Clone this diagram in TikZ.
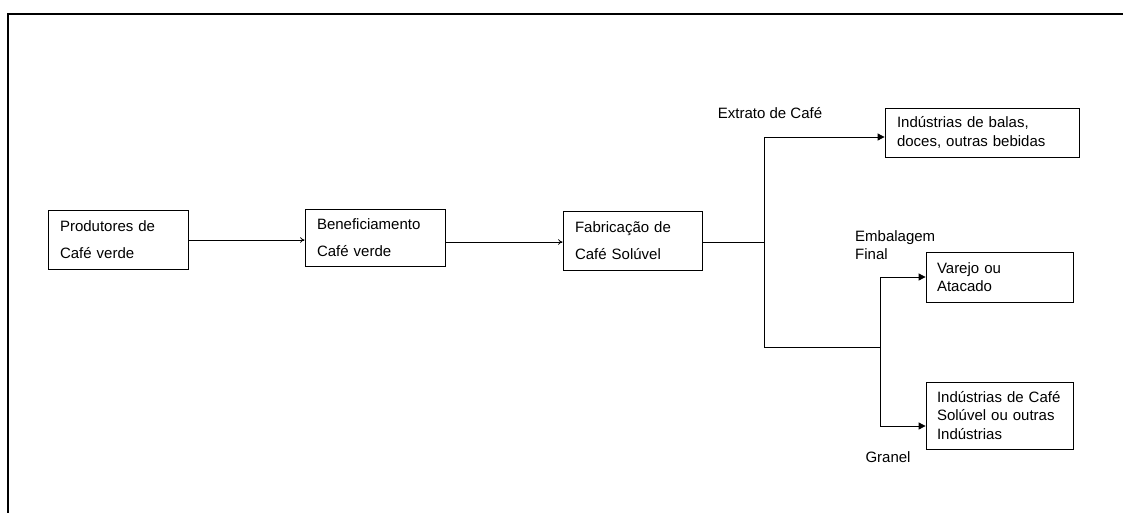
\documentclass[tikz,border=0pt]{standalone}
\usepackage{fontspec}
\setmainfont{Liberation Sans}
\usetikzlibrary{arrows.meta}
\tikzset{
	etapa/.style={draw, line width=0.8pt, align=left, inner xsep=12pt, inner ysep=0pt,
		font=\fontsize{15}{26.5}\selectfont},
	destino/.style={draw, line width=0.8pt, align=left, inner xsep=12pt, inner ysep=0pt,
		font=\fontsize{15}{18.5}\selectfont},
	rotulo/.style={font=\fontsize{15}{18}\selectfont, inner sep=0pt},
	liga/.style={line width=0.8pt},
	seta/.style={line width=0.8pt, -{To[length=4.5pt,width=5.5pt]}},
	setacheia/.style={line width=0.8pt, -{Triangle[length=7pt,width=7pt]}}
}
\begin{document}
\begin{tikzpicture}[x=1pt,y=-1pt]
	\useasboundingbox (0,0) rectangle (1123,512);
	% moldura
	\draw [line width=1.6pt] (8,520) -- (8,14) -- (1130,14);
	% cadeia principal
	\node [etapa, text width=116pt, minimum height=59pt] (prod) at (118,239.5) {Produtores de\\Café verde};
	\node [etapa, text width=116pt, minimum height=57pt] (benef) at (375,237.5) {Beneficiamento\\Café verde};
	\node [etapa, text width=115pt, minimum height=59pt] (fabr) at (632.5,240.5) {Fabricação de\\Café Solúvel};
	% destinos
	\node [destino, text width=170pt, minimum height=49pt] (balas) at (982,132.5) {Indústrias de balas,\\doces, outras bebidas};
	\node [destino, text width=125pt, inner xsep=11pt, minimum height=50pt] (varejo) at (999.5,277) {Varejo ou\\Atacado};
	\node [destino, text width=125pt, inner xsep=11pt, minimum height=67pt] (ind) at (999.5,415.5) {Indústrias de Café\\Solúvel ou outras\\Indústrias};
	% pontos de ramificacao
	\coordinate (split) at (764,242);
	\coordinate (ramo1) at (764,137);
	\coordinate (ramo2) at (764,347);
	\coordinate (fork) at (880,347);
	\coordinate (forkup) at (880,277);
	\coordinate (forkdn) at (880,426);
	\draw [seta] (prod.east |- 0,240) -- (benef.west |- 0,240);
	\draw [seta] (benef.east |- 0,242) -- (fabr.west |- 0,242);
	\draw [liga] (fabr.east |- split) -- (split);
	\draw [liga] (ramo1) -- (ramo2) -- (fork);
	\draw [liga] (forkup) -- (forkdn);
	\draw [setacheia] (ramo1) -- (balas.west |- ramo1);
	\draw [setacheia] (forkup) -- (varejo.west |- forkup);
	\draw [setacheia] (forkdn) -- (ind.west |- forkdn);
	% rotulos
	\node [rotulo] (extrato) at (770,113) {Extrato de Café};
	\node [rotulo, anchor=west, align=left] (embal) at (855,245) {Embalagem\\Final};
	\node [rotulo] (granel) at (888,457) {Granel};
\end{tikzpicture}
\end{document}
